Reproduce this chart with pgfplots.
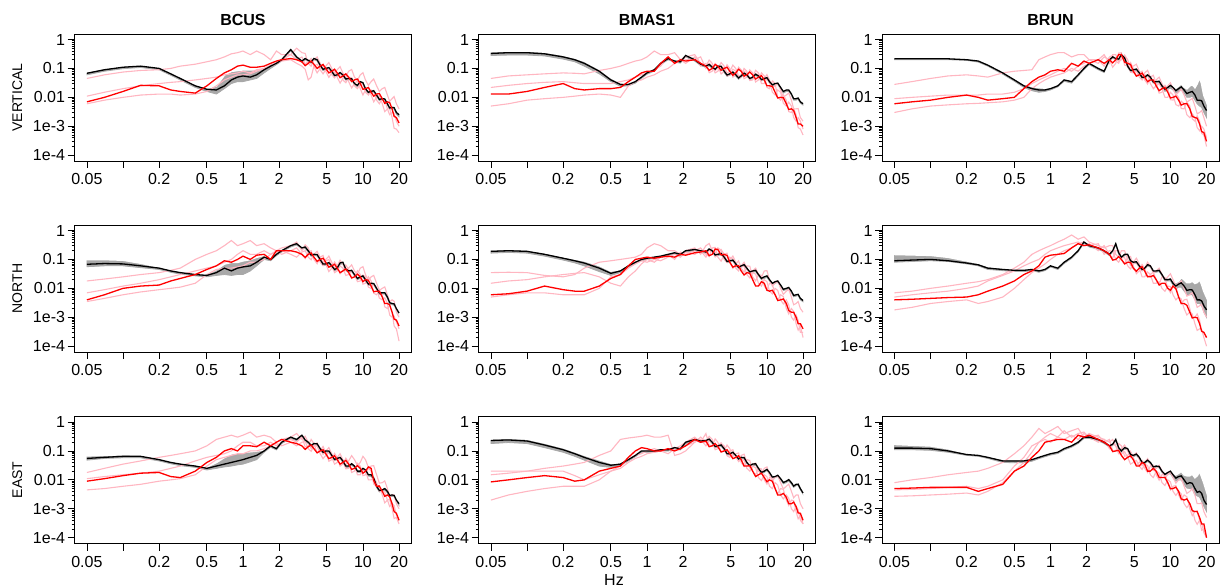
\documentclass[border=0pt]{standalone}
\usepackage{fontspec}
\setmainfont{Liberation Sans}
\usepackage{pgfplots}
\usepackage{pgfplotstable}
\pgfplotsset{compat=1.18}
\definecolor{pk}{RGB}{255,182,193}
\definecolor{bandgray}{RGB}{168,168,168}

% BCUS VERTICAL
\pgfplotstableread{
x lo hi k r a b c
0.05 .060 .076 .068 .007 .045 .011 .006
0.07 .080 .100 .090 .010 .060 .015 .008
0.1 .098 .122 .110 .016 .075 .020 .010
0.14 .108 .132 .120 .026 .085 .025 .012
0.2 .090 .110 .100 .025 .090 .030 .013
0.25 .058 .072 .065 .018 .100 .033 .013
0.3 .040 .050 .045 .016 .120 .035 .012
0.4 .022 .028 .025 .014 .140 .040 .013
0.5 .016 .021 .019 .025 .170 .045 .016
0.6 .013 .025 .018 .045 .200 .050 .025
0.7 .020 .060 .025 .070 .250 .060 .040
0.8 .030 .080 .040 .090 .320 .065 .050
0.9 .035 .085 .050 .120 .350 .070 .060
1.0 .035 .090 .055 .130 .400 .080 .060
1.15 .040 .090 .050 .110 .300 .070 .065
1.3 .045 .090 .060 .110 .400 .090 .080
1.5 .070 .100 .090 .120 .300 .100 .100
1.7 .100 .130 .120 .150 .200 .120 .130
1.9 .135 .165 .150 .180 .400 .150 .160
2.1 .180 .220 .200 .200 .300 .200 .180
2.5 .400 .500 .450 .220 .300 .300 .200
2.8 .225 .275 .250 .200 .500 .200 .150
3.1 .160 .200 .180 .170 .350 .250 .120
3.3 .20 .24 .22 .125 .33 .14 .094
3.5 .170 .210 .190 .150 .150 .180 .040
3.7 .15 .18 .167 .18 .12 .22 .05
3.9 .200 .240 .220 .140 .200 .120 .120
4.15 .18 .22 .20 .10 .25 .07 .14
4.4 .117 .143 .130 .120 .150 .100 .090
4.65 .084 .102 .093 .137 .094 .134 .065
4.9 .090 .110 .100 .100 .120 .080 .090
5.2 .096 .118 .107 .070 .16 .049 .10
5.5 .072 .088 .080 .080 .100 .070 .060
5.8 .051 .063 .057 .094 .066 .089 .047
6.1 .054 .066 .060 .070 .090 .050 .070
6.45 .065 .079 .072 .048 .115 .031 .071
6.8 .054 .066 .060 .055 .070 .045 .040
7.2 .039 .047 .043 .065 .052 .060 .032
7.6 .040 .050 .045 .050 .080 .035 .050
8.05 .040 .048 .044 .035 .092 .021 .048
8.5 .027 .033 .030 .040 .050 .030 .025
9.0 .023 .029 .026 .043 .038 .037 .020
9.5 .031 .039 .035 .030 .060 .020 .030
10.0 .029 .035 .032 .019 .071 .012 .029
10.5 .018 .022 .020 .020 .040 .018 .015
11.1 .013 .017 .015 .022 .026 .022 .012
11.7 .014 .018 .016 .015 .035 .012 .018
12.3 .015 .019 .017 .011 .043 .007 .016
13 .011 .013 .012 .013 .025 .010 .008
13.7 .0077 .0094 .0085 .0135 .016 .0116 .006
14.5 .008 .010 .009 .009 .020 .006 .009
15.2 .0079 .0097 .0088 .0062 .022 .0032 .0081
16 .0054 .0066 .006 .007 .012 .004 .004
16.7 .0039 .0047 .0043 .0066 .0073 .0042 .0025
17.5 .004 .005 .0045 .004 .009 .002 .003
18.2 .0040 .0048 .0044 .0022 .0106 .00085 .0028
19 .0026 .0034 .003 .002 .006 .0008 .0015
20 .0021 .0029 .0025 .0013 .004 .0006 .001
}\tA

% BMAS1 VERTICAL
\pgfplotstableread{
x lo hi k r a b c
0.05 .28 .38 .33 .013 .045 .022 .005
0.07 .29 .40 .35 .013 .055 .026 .006
0.1 .29 .40 .35 .016 .060 .030 .008
0.14 .27 .37 .32 .022 .065 .033 .009
0.2 .21 .29 .25 .030 .070 .035 .010
0.25 .17 .23 .20 .020 .068 .032 .011
0.3 .12 .18 .15 .018 .065 .030 .012
0.4 .065 .095 .080 .020 .085 .030 .013
0.5 .035 .048 .040 .020 .100 .030 .012
0.6 .024 .032 .028 .022 .120 .035 .010
0.7 .025 .031 .028 .035 .150 .040 .025
0.8 .031 .039 .035 .050 .180 .050 .035
0.9 .045 .055 .050 .070 .200 .060 .040
1.0 .063 .077 .070 .080 .250 .070 .050
1.15 .081 .099 .090 .080 .400 .090 .060
1.3 .135 .165 .150 .150 .300 .120 .080
1.5 .200 .240 .220 .250 .300 .250 .100
1.7 .162 .198 .180 .150 .350 .150 .150
1.9 .153 .187 .170 .200 .200 .200 .180
2.1 .250 .310 .280 .180 .250 .150 .200
2.5 .180 .220 .200 .200 .300 .250 .200
2.8 .126 .154 .140 .150 .150 .120 .250
3.1 .108 .132 .120 .120 .120 .150 .100
3.3 .124 .152 .138 .086 .195 .071 .148
3.5 .099 .121 .110 .100 .150 .080 .120
3.7 .085 .103 .094 .137 .086 .147 .070
3.9 .108 .132 .120 .120 .100 .120 .080
4.15 .106 .130 .118 .086 .160 .064 .120
4.4 .072 .088 .080 .100 .120 .080 .100
4.65 .053 .065 .059 .110 .069 .134 .056
4.9 .058 .072 .065 .080 .080 .100 .060
5.2 .068 .082 .075 .058 .130 .050 .094
5.5 .054 .066 .060 .070 .100 .060 .080
5.8 .042 .052 .047 .094 .054 .110 .046
6.1 .050 .060 .055 .080 .060 .090 .050
6.45 .062 .076 .069 .054 .100 .044 .080
6.8 .054 .066 .060 .060 .080 .050 .070
7.2 .041 .050 .045 .075 .044 .089 .038
7.6 .045 .055 .050 .060 .050 .070 .040
8.05 .057 .069 .063 .043 .086 .034 .066
8.5 .050 .060 .055 .050 .070 .040 .060
9.0 .037 .045 .041 .056 .039 .070 .030
9.5 .040 .050 .045 .040 .045 .055 .030
10.0 .043 .053 .048 .025 .061 .022 .044
10.5 .031 .039 .035 .025 .040 .020 .035
11.1 .024 .030 .027 .024 .022 .037 .015
11.7 .027 .033 .030 .015 .025 .030 .012
12.3 .028 .034 .031 .0095 .031 .010 .018
13 .020 .024 .022 .010 .018 .008 .015
13.7 .014 .018 .016 .0097 .0103 .012 .0062
14.5 .016 .020 .018 .006 .012 .008 .005
15.2 .016 .020 .018 .0038 .014 .0032 .0068
16 .012 .014 .013 .004 .008 .003 .005
16.7 .008 .0098 .0089 .0035 .004 .0041 .002
17.5 .008 .010 .009 .002 .004 .0025 .0015
18.2 .0086 .0105 .0095 .0012 .0041 .0009 .002
19 .0063 .0077 .007 .0012 .002 .0008 .0015
20 .0054 .0066 .006 .001 .0015 .0005 .0008
}\tB

% BRUN VERTICAL
\pgfplotstableread{
x lo hi k r a b c
0.05 .20 .23 .215 .006 .028 .009 .003
0.07 .20 .23 .215 .007 .035 .010 .004
0.1 .20 .23 .215 .008 .045 .011 .005
0.14 .20 .23 .215 .010 .055 .012 .0055
0.2 .19 .22 .200 .012 .060 .012 .006
0.25 .165 .195 .180 .010 .055 .012 .0062
0.3 .12 .14 .130 .008 .050 .013 .0065
0.4 .063 .077 .070 .009 .070 .013 .007
0.5 .036 .046 .040 .010 .080 .015 .008
0.6 .022 .029 .025 .020 .085 .020 .010
0.7 .017 .024 .020 .035 .090 .030 .020
0.8 .015 .022 .018 .050 .200 .040 .030
0.9 .016 .021 .018 .060 .250 .050 .040
1.0 .018 .022 .020 .080 .300 .060 .050
1.15 .023 .028 .025 .090 .350 .080 .060
1.3 .036 .044 .040 .080 .350 .100 .070
1.5 .031 .039 .035 .150 .250 .080 .100
1.7 .054 .066 .060 .120 .300 .120 .080
1.9 .090 .110 .100 .180 .300 .150 .120
2.1 .135 .165 .150 .150 .200 .200 .150
2.5 .090 .110 .100 .200 .200 .150 .200
2.8 .072 .088 .080 .150 .300 .250 .120
3.1 .180 .220 .200 .200 .150 .200 .250
3.3 .225 .275 .25 .156 .30 .11 .28
3.5 .200 .240 .220 .200 .300 .150 .180
3.7 .19 .23 .21 .30 .17 .34 .15
3.9 .270 .330 .300 .300 .200 .350 .250
4.15 .21 .25 .23 .165 .29 .13 .26
4.4 .108 .132 .120 .150 .200 .120 .150
4.65 .077 .094 .085 .137 .11 .16 .074
4.9 .081 .099 .090 .080 .120 .100 .070
5.2 .086 .104 .095 .054 .14 .055 .08
5.5 .063 .077 .070 .060 .080 .070 .050
5.8 .044 .054 .049 .069 .052 .08 .04
6.1 .045 .055 .050 .050 .070 .040 .060
6.45 .054 .066 .06 .035 .086 .029 .057
6.8 .045 .055 .050 .040 .050 .050 .030
7.2 .031 .038 .034 .04 .031 .058 .02
7.6 .031 .039 .035 .025 .040 .030 .025
8.05 .032 .04 .036 .017 .05 .014 .03
8.5 .022 .028 .025 .020 .030 .015 .020
9.0 .016 .022 .019 .022 .019 .026 .01
9.5 .019 .025 .022 .015 .025 .020 .010
10.0 .021 .031 .026 .0095 .032 .0083 .015
10.5 .018 .026 .022 .010 .020 .008 .012
11.1 .014 .021 .017 .011 .012 .013 .0056
11.7 .016 .025 .020 .008 .015 .010 .005
12.3 .018 .03 .023 .0054 .019 .0041 .0074
13 .014 .023 .018 .006 .012 .004 .006
13.7 .01 .02 .0135 .0061 .0069 .0067 .0025
14.5 .010 .025 .015 .004 .008 .005 .002
15.2 .011 .028 .016 .0022 .0092 .0018 .0027
16 .008 .022 .012 .002 .005 .0015 .002
16.7 .006 .03 .008 .0019 .0027 .0023 .0009
17.5 .005 .050 .008 .0012 .003 .0015 .0007
18.2 .0045 .03 .0076 .00066 .0035 .00057 .001
19 .003 .012 .005 .0006 .002 .0005 .0008
20 .002 .007 .0035 .0003 .001 .0002 .0004
}\tC

% BCUS NORTH
\pgfplotstableread{
x lo hi k r a b c
0.05 .056 .100 .068 .004 .018 .007 .0035
0.07 .060 .100 .072 .006 .021 .009 .0045
0.1 .060 .095 .070 .010 .025 .012 .006
0.14 .052 .075 .060 .012 .030 .015 .0075
0.2 .045 .055 .050 .013 .035 .020 .009
0.25 .036 .044 .040 .018 .042 .025 .010
0.3 .031 .039 .035 .022 .050 .030 .011
0.4 .027 .033 .030 .030 .100 .040 .015
0.5 .025 .031 .028 .045 .150 .050 .030
0.6 .028 .045 .035 .060 .200 .060 .045
0.7 .030 .070 .050 .090 .300 .080 .050
0.8 .028 .080 .040 .080 .450 .100 .050
0.9 .030 .080 .050 .100 .300 .150 .055
1.0 .030 .090 .055 .130 .350 .200 .060
1.15 .040 .100 .060 .100 .450 .150 .080
1.3 .060 .120 .080 .140 .300 .150 .080
1.5 .100 .140 .120 .150 .350 .200 .100
1.7 .090 .110 .100 .100 .250 .150 .150
1.9 .135 .165 .150 .200 .200 .200 .180
2.1 .180 .220 .200 .200 .250 .150 .200
2.5 .270 .330 .300 .200 .300 .200 .150
2.8 .315 .385 .350 .180 .400 .250 .120
3.1 .225 .275 .250 .150 .200 .150 .180
3.3 .24 .30 .27 .117 .32 .107 .20
3.5 .180 .220 .200 .150 .250 .180 .120
3.7 .128 .156 .142 .168 .136 .20 .097
3.9 .135 .165 .150 .120 .150 .100 .150
4.15 .132 .162 .147 .086 .19 .071 .148
4.4 .090 .110 .100 .100 .120 .120 .080
4.65 .062 .076 .069 .11 .077 .137 .061
4.9 .063 .077 .070 .080 .100 .070 .090
5.2 .07 .086 .078 .054 .13 .038 .099
5.5 .054 .066 .060 .060 .080 .050 .060
5.8 .04 .05 .045 .068 .049 .082 .035
6.1 .045 .055 .050 .050 .060 .060 .040
6.45 .068 .084 .076 .035 .094 .032 .06
6.8 .070 .090 .080 .040 .070 .040 .050
7.2 .041 .051 .046 .047 .041 .064 .028
7.6 .036 .044 .040 .035 .050 .045 .030
8.05 .038 .046 .042 .023 .065 .022 .04
8.5 .027 .033 .030 .025 .040 .025 .030
9.0 .02 .024 .022 .031 .031 .041 .017
9.5 .022 .028 .025 .025 .050 .030 .018
10.0 .024 .03 .027 .017 .056 .014 .029
10.5 .018 .022 .020 .020 .030 .015 .025
11.1 .0125 .0155 .014 .019 .019 .025 .011
11.7 .013 .017 .015 .012 .025 .018 .010
12.3 .013 .016 .0147 .0076 .028 .0068 .0135
13 .009 .011 .010 .008 .015 .006 .010
13.7 .0062 .0076 .0069 .0079 .0086 .009 .0046
14.5 .0063 .0077 .007 .005 .010 .006 .004
15.2 .0064 .0078 .0071 .003 .0112 .0023 .0047
16 .0045 .0055 .005 .003 .006 .002 .003
16.7 .0029 .0035 .0032 .0027 .0034 .0026 .0012
17.5 .0027 .0033 .003 .0015 .004 .0015 .001
18.2 .0026 .0032 .0029 .00086 .0036 .0005 .0011
19 .0018 .0022 .002 .0008 .0015 .0004 .0007
20 .0013 .0015 .0014 .0005 .001 .00015 .0004
}\tD

% BMAS1 NORTH
\pgfplotstableread{
x lo hi k r a b c
0.05 .165 .215 .190 .006 .035 .015 .005
0.07 .175 .225 .200 .0065 .036 .018 .006
0.1 .165 .215 .190 .008 .035 .020 .007
0.14 .130 .170 .150 .012 .028 .025 .007
0.2 .095 .125 .110 .009 .025 .030 .006
0.25 .076 .104 .090 .008 .030 .033 .006
0.3 .060 .090 .075 .008 .050 .035 .006
0.4 .038 .062 .050 .012 .080 .025 .010
0.5 .028 .040 .033 .022 .090 .015 .025
0.6 .035 .045 .040 .030 .100 .012 .030
0.7 .054 .066 .060 .060 .110 .025 .050
0.8 .072 .088 .080 .100 .120 .040 .070
0.9 .090 .110 .100 .110 .150 .070 .090
1.0 .100 .120 .110 .120 .250 .100 .080
1.15 .108 .132 .120 .110 .350 .080 .100
1.3 .117 .143 .130 .120 .300 .120 .090
1.5 .135 .165 .150 .130 .200 .150 .120
1.7 .153 .187 .170 .120 .200 .100 .150
1.9 .135 .165 .150 .150 .150 .180 .120
2.1 .180 .220 .200 .140 .200 .150 .180
2.5 .200 .240 .220 .170 .250 .200 .150
2.8 .180 .220 .200 .180 .150 .250 .200
3.1 .162 .198 .180 .200 .300 .150 .120
3.3 .207 .253 .23 .135 .355 .126 .21
3.5 .180 .220 .200 .150 .200 .250 .200
3.7 .128 .156 .142 .23 .121 .26 .16
3.9 .135 .165 .150 .220 .150 .120 .250
4.15 .145 .177 .161 .142 .22 .087 .21
4.4 .108 .132 .120 .150 .150 .150 .100
4.65 .077 .094 .085 .137 .086 .164 .079
4.9 .081 .099 .090 .080 .100 .080 .120
5.2 .086 .104 .095 .054 .13 .049 .104
5.5 .063 .077 .070 .060 .080 .070 .050
5.8 .048 .058 .053 .061 .049 .089 .04
6.1 .054 .066 .060 .040 .060 .050 .060
6.45 .059 .073 .066 .029 .08 .036 .057
6.8 .045 .055 .050 .035 .050 .060 .030
7.2 .033 .041 .037 .033 .031 .058 .023
7.6 .036 .044 .040 .020 .040 .025 .035
8.05 .038 .046 .042 .012 .05 .018 .031
8.5 .027 .033 .030 .012 .030 .030 .015
9.0 .02 .024 .022 .017 .024 .028 .012
9.5 .022 .028 .025 .015 .040 .012 .020
10.0 .024 .03 .027 .0086 .041 .0087 .017
10.5 .018 .022 .020 .008 .020 .015 .008
11.1 .0135 .0165 .015 .0086 .012 .014 .0064
11.7 .015 .019 .017 .006 .015 .006 .010
12.3 .016 .02 .018 .0038 .018 .0039 .0085
13 .012 .014 .013 .004 .010 .006 .004
13.7 .0084 .0102 .0093 .0043 .0062 .0052 .0029
14.5 .009 .011 .010 .003 .008 .002 .004
15.2 .0096 .0118 .0107 .0017 .0092 .0013 .0027
16 .007 .009 .008 .0015 .005 .002 .001
16.7 .0051 .0063 .0057 .0015 .0027 .0016 .0008
17.5 .0054 .0066 .006 .001 .003 .0006 .0012
18.2 .0056 .0068 .0062 .0006 .0035 .00036 .0008
19 .004 .005 .0045 .0006 .002 .0005 .0003
20 .0034 .0042 .0038 .0004 .0015 .0002 .0003
}\tE

% BRUN NORTH
\pgfplotstableread{
x lo hi k r a b c
0.05 .080 .150 .090 .004 .007 .005 .0018
0.07 .085 .145 .095 .0042 .008 .006 .0022
0.1 .090 .140 .100 .0045 .010 .007 .003
0.14 .085 .120 .090 .0048 .012 .008 .0035
0.2 .070 .090 .075 .005 .015 .010 .004
0.25 .060 .075 .065 .006 .017 .012 .003
0.3 .045 .058 .050 .008 .020 .018 .0035
0.4 .041 .050 .045 .012 .030 .028 .005
0.5 .038 .046 .042 .018 .050 .040 .010
0.6 .038 .046 .042 .030 .080 .060 .020
0.7 .041 .049 .045 .040 .150 .080 .035
0.8 .036 .044 .040 .060 .200 .100 .050
0.9 .041 .049 .045 .120 .250 .150 .070
1.0 .055 .065 .060 .140 .300 .200 .100
1.15 .045 .055 .050 .150 .400 .250 .150
1.3 .072 .088 .080 .160 .500 .300 .200
1.5 .108 .132 .120 .250 .700 .350 .250
1.7 .180 .220 .200 .350 .500 .400 .350
1.9 .360 .440 .400 .300 .600 .300 .400
2.1 .270 .330 .300 .320 .400 .350 .300
2.5 .225 .275 .250 .250 .300 .200 .350
2.8 .180 .220 .200 .200 .250 .300 .150
3.1 .135 .165 .150 .150 .300 .150 .200
3.3 .18 .22 .20 .095 .30 .11 .19
3.5 .315 .385 .350 .100 .150 .200 .100
3.7 .153 .187 .17 .125 .12 .21 .08
3.9 .108 .132 .120 .100 .200 .100 .120
4.15 .135 .165 .15 .07 .20 .071 .115
4.4 .135 .165 .150 .080 .100 .120 .060
4.65 .081 .099 .09 .079 .062 .127 .047
4.9 .072 .088 .080 .050 .080 .060 .070
5.2 .075 .091 .083 .039 .11 .032 .08
5.5 .054 .066 .060 .050 .070 .040 .050
5.8 .04 .05 .045 .056 .041 .067 .025
6.1 .045 .055 .050 .040 .050 .050 .025
6.45 .059 .073 .066 .025 .08 .025 .037
6.8 .054 .066 .060 .025 .060 .030 .030
7.2 .036 .044 .04 .028 .034 .037 .015
7.6 .036 .044 .040 .020 .040 .020 .015
8.05 .038 .046 .042 .013 .05 .014 .017
8.5 .027 .033 .030 .015 .030 .025 .010
9.0 .018 .022 .02 .015 .019 .024 .0079
9.5 .018 .022 .020 .010 .025 .010 .012
10.0 .018 .025 .021 .0086 .032 .0071 .0115
10.5 .013 .018 .015 .012 .020 .012 .006
11.1 .0095 .016 .012 .0097 .012 .0116 .004
11.7 .011 .018 .014 .005 .015 .005 .005
12.3 .011 .024 .0155 .003 .018 .0029 .0043
13 .008 .020 .012 .003 .010 .004 .002
13.7 .0062 .016 .0085 .0026 .0054 .0042 .0012
14.5 .006 .016 .009 .0015 .006 .002 .0015
15.2 .006 .018 .0088 .00095 .0071 .0009 .0013
16 .004 .015 .006 .001 .004 .001 .0006
16.7 .003 .016 .004 .00096 .0022 .0013 .00035
17.5 .003 .020 .004 .0006 .0025 .0008 .0004
18.2 .0025 .014 .0037 .00033 .0028 .00032 .00038
19 .0015 .008 .0025 .0003 .0015 .0003 .0002
20 .001 .005 .0018 .0002 .001 .0002 .0001
}\tF

% BCUS EAST
\pgfplotstableread{
x lo hi k r a b c
0.05 .048 .068 .055 .009 .018 .011 .0045
0.07 .055 .072 .060 .011 .025 .013 .005
0.1 .058 .074 .065 .014 .035 .015 .006
0.14 .058 .072 .065 .017 .045 .017 .007
0.2 .045 .055 .050 .018 .060 .020 .009
0.25 .036 .044 .040 .013 .070 .025 .010
0.3 .031 .039 .035 .012 .080 .030 .011
0.4 .027 .033 .030 .020 .100 .045 .015
0.5 .022 .028 .025 .040 .150 .060 .030
0.6 .025 .040 .030 .060 .250 .070 .050
0.7 .028 .060 .035 .100 .300 .080 .060
0.8 .030 .080 .040 .120 .350 .100 .070
0.9 .033 .085 .045 .100 .300 .150 .080
1.0 .035 .090 .050 .150 .350 .200 .080
1.15 .042 .095 .060 .150 .450 .200 .100
1.3 .050 .100 .070 .140 .300 .150 .100
1.5 .090 .110 .100 .200 .350 .150 .120
1.7 .135 .165 .150 .150 .300 .200 .150
1.9 .108 .132 .120 .200 .200 .150 .180
2.1 .180 .220 .200 .250 .250 .200 .150
2.5 .270 .330 .300 .200 .300 .250 .200
2.8 .225 .275 .250 .180 .400 .200 .150
3.1 .315 .385 .350 .150 .250 .300 .200
3.3 .216 .264 .24 .113 .32 .138 .21
3.5 .180 .220 .200 .140 .200 .150 .120
3.7 .14 .172 .156 .162 .121 .25 .097
3.9 .162 .198 .180 .120 .150 .180 .150
4.15 .158 .194 .176 .086 .19 .087 .148
4.4 .108 .132 .120 .100 .120 .100 .080
4.65 .081 .099 .09 .11 .077 .142 .054
4.9 .090 .110 .100 .080 .100 .090 .070
5.2 .09 .11 .10 .054 .13 .044 .088
5.5 .063 .077 .070 .060 .080 .050 .060
5.8 .046 .056 .051 .068 .049 .082 .035
6.1 .050 .060 .055 .050 .060 .060 .040
6.45 .054 .066 .06 .035 .08 .03 .057
6.8 .040 .050 .045 .040 .050 .035 .045
7.2 .027 .033 .03 .047 .033 .056 .024
7.6 .027 .033 .030 .035 .045 .040 .025
8.05 .032 .04 .036 .023 .069 .018 .037
8.5 .027 .033 .030 .025 .050 .020 .030
9.0 .018 .022 .02 .031 .031 .037 .015
9.5 .018 .022 .020 .025 .040 .030 .015
10.0 .022 .028 .025 .017 .065 .014 .023
10.5 .020 .024 .022 .020 .050 .015 .020
11.1 .0135 .0165 .015 .028 .027 .026 .01
11.7 .013 .017 .015 .025 .030 .020 .010
12.3 .0103 .0125 .0114 .0095 .031 .0071 .012
13 .0054 .0066 .006 .006 .015 .006 .008
13.7 .0038 .0048 .0043 .0061 .0077 .0064 .0041
14.5 .004 .005 .0045 .004 .008 .003 .004
15.2 .0045 .0055 .005 .0027 .0092 .0016 .0038
16 .0035 .0045 .004 .003 .005 .002 .002
16.7 .0026 .0032 .0029 .0026 .0027 .0021 .0012
17.5 .0027 .0033 .003 .0015 .003 .001 .0015
18.2 .0026 .0032 .0029 .0008 .003 .00046 .0013
19 .0018 .0022 .002 .0007 .0015 .0005 .0006
20 .0013 .0017 .0015 .0004 .001 .0003 .0004
}\tG

% BMAS1 EAST
\pgfplotstableread{
x lo hi k r a b c
0.05 .180 .260 .230 .0085 .020 .015 .002
0.07 .195 .275 .240 .010 .020 .017 .003
0.1 .180 .260 .220 .012 .020 .020 .004
0.14 .130 .190 .160 .014 .025 .020 .005
0.2 .090 .130 .110 .012 .030 .020 .006
0.25 .065 .095 .080 .009 .035 .014 .006
0.3 .048 .072 .060 .010 .040 .010 .006
0.4 .030 .050 .040 .020 .070 .015 .010
0.5 .027 .038 .032 .025 .100 .020 .020
0.6 .031 .039 .035 .030 .250 .030 .025
0.7 .045 .055 .050 .060 .280 .050 .040
0.8 .063 .077 .070 .100 .300 .070 .055
0.9 .090 .110 .100 .130 .320 .080 .065
1.0 .090 .110 .100 .120 .350 .100 .080
1.15 .090 .110 .100 .100 .300 .120 .090
1.3 .099 .121 .110 .100 .300 .100 .100
1.5 .099 .121 .110 .120 .350 .080 .120
1.7 .117 .143 .130 .100 .070 .120 .100
1.9 .108 .132 .120 .120 .080 .150 .120
2.1 .180 .220 .200 .150 .100 .200 .150
2.5 .225 .275 .250 .250 .200 .300 .200
2.8 .198 .242 .220 .200 .300 .200 .250
3.1 .207 .253 .230 .220 .200 .400 .150
3.3 .231 .283 .257 .14 .32 .16 .23
3.5 .180 .220 .200 .150 .250 .150 .200
3.7 .128 .156 .142 .18 .136 .26 .11
3.9 .135 .165 .150 .140 .150 .200 .120
4.15 .145 .177 .161 .092 .19 .092 .18
4.4 .108 .132 .120 .100 .120 .100 .150
4.65 .072 .088 .08 .11 .077 .16 .068
4.9 .072 .088 .080 .080 .100 .120 .060
5.2 .081 .099 .09 .054 .11 .064 .088
5.5 .063 .077 .070 .060 .060 .080 .070
5.8 .048 .058 .053 .068 .045 .085 .043
6.1 .054 .066 .060 .050 .070 .040 .050
6.45 .053 .065 .059 .03 .077 .029 .048
6.8 .036 .044 .040 .030 .040 .050 .025
7.2 .028 .034 .031 .031 .026 .047 .02
7.6 .031 .039 .035 .020 .035 .020 .030
8.05 .032 .04 .036 .013 .038 .015 .026
8.5 .022 .028 .025 .015 .020 .025 .012
9.0 .016 .02 .018 .017 .016 .024 .0095
9.5 .018 .022 .020 .012 .025 .010 .015
10.0 .021 .025 .023 .0086 .028 .0071 .0128
10.5 .016 .020 .018 .010 .015 .012 .006
11.1 .0113 .0138 .0125 .0089 .0094 .0116 .005
11.7 .012 .014 .013 .005 .012 .005 .008
12.3 .013 .0158 .0144 .003 .014 .0033 .0066
13 .010 .012 .011 .003 .008 .005 .003
13.7 .0073 .0089 .0081 .0034 .0048 .0047 .0022
14.5 .008 .010 .009 .0025 .006 .002 .003
15.2 .0092 .0112 .0102 .0015 .0071 .0013 .0023
16 .007 .009 .008 .0015 .004 .002 .001
16.7 .0055 .0067 .0061 .0017 .0024 .0019 .0008
17.5 .0063 .0077 .007 .0012 .003 .0008 .0012
18.2 .0064 .0078 .0071 .00072 .003 .00045 .00093
19 .0045 .0055 .005 .0007 .0015 .0006 .0004
20 .0032 .0038 .0035 .0004 .001 .0003 .0003
}\tH

% BRUN EAST
\pgfplotstableread{
x lo hi k r a b c
0.05 .110 .170 .125 .005 .008 .0045 .0027
0.07 .110 .160 .125 .0052 .010 .0047 .0028
0.1 .105 .150 .120 .0055 .012 .005 .003
0.14 .090 .120 .100 .0055 .015 .0055 .0032
0.2 .070 .082 .075 .0055 .018 .006 .0035
0.25 .065 .075 .070 .004 .020 .005 .003
0.3 .055 .066 .060 .005 .025 .006 .004
0.4 .040 .052 .045 .007 .040 .010 .008
0.5 .039 .052 .045 .020 .080 .030 .020
0.6 .039 .052 .045 .030 .150 .060 .040
0.7 .044 .056 .050 .060 .300 .150 .090
0.8 .054 .066 .060 .100 .600 .200 .200
0.9 .063 .077 .070 .200 .400 .300 .250
1.0 .072 .088 .080 .220 .500 .400 .200
1.15 .081 .099 .090 .250 .700 .300 .300
1.3 .108 .132 .120 .250 .400 .500 .250
1.5 .135 .165 .150 .200 .500 .300 .350
1.7 .180 .220 .200 .350 .600 .400 .250
1.9 .270 .330 .300 .300 .300 .450 .400
2.1 .270 .330 .300 .350 .400 .300 .300
2.5 .225 .275 .250 .250 .300 .350 .200
2.8 .180 .220 .200 .200 .250 .200 .250
3.1 .135 .165 .150 .150 .200 .250 .120
3.3 .153 .187 .17 .095 .25 .10 .18
3.5 .225 .275 .250 .100 .150 .100 .150
3.7 .117 .143 .13 .105 .094 .18 .079
3.9 .090 .110 .100 .070 .120 .150 .080
4.15 .117 .143 .13 .05 .16 .066 .094
4.4 .108 .132 .120 .060 .100 .070 .060
4.65 .068 .083 .075 .068 .059 .097 .035
4.9 .063 .077 .070 .050 .070 .060 .040
5.2 .07 .086 .078 .03 .086 .032 .047
5.5 .054 .066 .060 .030 .050 .040 .030
5.8 .036 .044 .04 .04 .031 .047 .023
6.1 .036 .044 .040 .035 .040 .025 .035
6.45 .043 .053 .048 .02 .054 .018 .031
6.8 .036 .044 .040 .020 .035 .030 .015
7.2 .025 .031 .028 .025 .021 .032 .012
7.6 .027 .033 .030 .020 .025 .015 .020
8.05 .026 .032 .029 .012 .032 .0098 .017
8.5 .018 .022 .020 .012 .020 .015 .008
9.0 .014 .017 .0155 .012 .012 .016 .0064
9.5 .016 .020 .018 .008 .015 .008 .010
10.0 .016 .024 .02 .0049 .019 .0045 .0085
10.5 .012 .018 .015 .005 .012 .006 .004
11.1 .009 .015 .0115 .0056 .0077 .0064 .0029
11.7 .010 .017 .013 .004 .010 .003 .004
12.3 .01 .02 .0137 .0022 .011 .002 .0033
13 .007 .015 .010 .002 .006 .003 .0015
13.7 .0052 .014 .0073 .0022 .0034 .0026 .0011
14.5 .005 .014 .008 .0015 .004 .001 .0015
15.2 .0048 .016 .0076 .00086 .005 .00058 .001
16 .003 .012 .005 .0008 .003 .0008 .0004
16.7 .0028 .014 .0037 .0008 .0015 .00085 .00029
17.5 .0025 .020 .004 .0005 .0015 .0004 .0004
18.2 .0018 .013 .0034 .0003 .0016 .00018 .00033
19 .0012 .008 .002 .0003 .0008 .0002 .00015
20 .0008 .004 .0014 .0001 .0005 .0001 .0001
}\tI

\newcommand\drawpanel[5]{%
  \begin{axis}[anchor=south west, at={(#1,#2)},
    scale only axis, width=337pt, height=127pt,
    xmode=log, ymode=log,
    xmin=0.0394, xmax=25.4, ymin=0.000063, ymax=1.55,
    xtick={0.05,0.1,0.2,0.5,1,2,5,10,20},
    xticklabels={0.05,,0.2,0.5,1,2,5,10,20},
    ytick={0.0001,0.001,0.01,0.1,1},
    yticklabels={1e-4,1e-3,0.01,0.1,1},
    minor x tick num=0, minor y tick num=0,
    tick align=outside, major tick length=7pt,
    xtick pos=bottom, ytick pos=left,
    tick style={black, line width=0.8pt},
    axis line style={line width=0.8pt},
    axis on top, clip mode=individual,
    ticklabel style={font=\fontsize{16}{18}\selectfont},
    xticklabel style={yshift=-2pt},
    yticklabel style={xshift=1pt}]
    \addplot[fill=bandgray, draw=bandgray, line width=0.8pt] table[x=x,y=lo]{#3} \closedcycle;
    \addplot[fill=white, draw=white, line width=1.8pt] table[x=x,y=hi]{#3} \closedcycle;
    \addplot[pk, line width=1.1pt] table[x=x,y=a]{#3};
    \addplot[pk, line width=1.1pt] table[x=x,y=b]{#3};
    \addplot[pk, line width=1.1pt] table[x=x,y=c]{#3};
    \addplot[black, line width=1.3pt] table[x=x,y=k]{#3};
    \addplot[red, line width=1.3pt] table[x=x,y=r]{#3};
    \node[anchor=base, yshift=8pt, font=\bfseries\fontsize{16}{18}\selectfont] at (axis description cs:0.5,1) {#4};
    \node[rotate=90, font=\fontsize{14}{16}\selectfont] at (axis description cs:-0.17,0.5) {#5};
  \end{axis}}

\begin{document}
\begin{tikzpicture}
\useasboundingbox (0,0) rectangle (1220pt,587pt);
\drawpanel{74.5pt}{426pt}{\tA}{BCUS}{VERTICAL}
\drawpanel{478.5pt}{426pt}{\tB}{BMAS1}{}
\drawpanel{882pt}{426pt}{\tC}{BRUN}{}
\drawpanel{74.5pt}{235pt}{\tD}{}{NORTH}
\drawpanel{478.5pt}{235pt}{\tE}{}{}
\drawpanel{882pt}{235pt}{\tF}{}{}
\drawpanel{74.5pt}{43.5pt}{\tG}{}{EAST}
\drawpanel{478.5pt}{43.5pt}{\tH}{}{}
\drawpanel{882pt}{43.5pt}{\tI}{}{}
\node[anchor=base, font=\fontsize{16}{18}\selectfont] at (614pt,1.5pt) {Hz};
\end{tikzpicture}
\end{document}
